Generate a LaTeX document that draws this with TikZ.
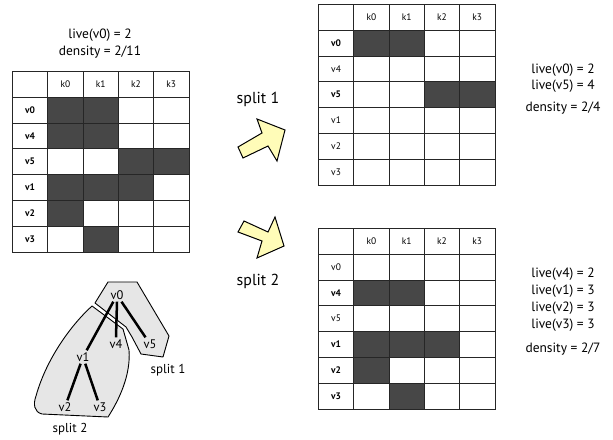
\documentclass[tikz,border=0pt]{standalone}
\usepackage{fontspec}
\setmainfont{PT Sans}
\definecolor{cellfill}{HTML}{474747}
\definecolor{regionfill}{HTML}{E6E6E6}
\definecolor{arrowfill}{HTML}{FFFCB8}
\tikzset{
  cell/.style={draw=black!85, line width=0.8bp, minimum width=35.3bp, minimum height=25.8bp,
    inner sep=0pt, anchor=north west, font=\fontsize{9.5}{11}\selectfont},
  txt/.style={font=\fontsize{13.5}{15}\selectfont, inner sep=1pt},
  big/.style={font=\fontsize{16}{18}\selectfont, inner sep=1pt},
  tn/.style={font=\fontsize{12.5}{14}\selectfont, inner sep=2pt},
  tl/.style={font=\fontsize{13}{15}\selectfont, inner sep=1pt},
  tedge/.style={line width=2.5bp, black},
  region/.style={draw=black, line width=0.9bp, fill=regionfill, line join=round},
  blockarrow/.style={draw=black, line width=1bp, fill=arrowfill, line join=miter}
}
\newcommand\drawmat[4]{%
  \node[cell] (#1-0-0) at (#2,#3) {};
  \foreach \kk [count=\j] in {k0,k1,k2,k3}
    \node[cell] (#1-0-\j) at ({#2+\j*35.3},{#3}) {\kk};
  \foreach \lab/\isb/\qa/\qb/\qc/\qd [count=\i] in {#4} {
    \ifnum\isb=1 \def\lf{\bfseries}\else\def\lf{}\fi
    \node[cell] (#1-\i-0) at ({#2},{#3+\i*25.8}) {\lf\lab};
    \foreach \s [count=\j] in {\qa,\qb,\qc,\qd} {
      \ifnum\s=1 \def\cf{cellfill}\else\def\cf{white}\fi
      \node[cell, fill=\cf] (#1-\i-\j) at ({#2+\j*35.3},{#3+\i*25.8}) {};
    }
  }
}
\begin{document}
\begin{tikzpicture}[x=1bp,y=-1bp]
\useasboundingbox (0,0) rectangle (613,440);
% left matrix
\node[txt] (lv0) at (100,35) {live(v0) = 2};
\node[txt] (lden) at (100,52) {density = 2/11};
\drawmat{L}{12}{71}{v0/1/1/1/0/0, v4/1/1/1/0/0, v5/1/0/0/1/1, v1/1/1/1/1/0, v2/1/1/0/0/0, v3/1/0/1/0/0}
% top right matrix
\drawmat{T}{318}{4}{v0/1/1/1/0/0, v4/0/0/0/0/0, v5/1/0/0/1/1, v1/0/0/0/0/0, v2/0/0/0/0/0, v3/0/0/0/0/0}
% bottom right matrix
\drawmat{B}{318}{228}{v0/0/0/0/0/0, v4/1/1/1/0/0, v5/0/0/0/0/0, v1/1/1/1/1/0, v2/1/1/0/0/0, v3/1/0/1/0/0}
% right texts
\node[txt] (t1) at (563,70) {live(v0) = 2};
\node[txt] (t2) at (563,86) {live(v5) = 4};
\node[txt] (t3) at (563,108) {density = 2/4};
\node[txt] (b1) at (563,274) {live(v4) = 2};
\node[txt] (b2) at (563,291) {live(v1) = 3};
\node[txt] (b3) at (563,308) {live(v2) = 3};
\node[txt] (b4) at (563,325) {live(v3) = 3};
\node[txt] (b5) at (563,349) {density = 2/7};
% split labels and arrows
\node[big] (s1) at (258,99) {split 1};
\node[big] (s2) at (258,281) {split 2};
\draw[blockarrow] (238,147) -- (262,133) -- (257,119) -- (285,130) -- (277,161) -- (268,146) -- (243,158) -- cycle;
\draw[blockarrow] (244,221) -- (268,232) -- (275,217) -- (284,246) -- (257,258) -- (262,241) -- (238,232) -- cycle;
% tree regions
\draw[region] (92,306) -- (123,329) -- (129,350) .. controls (131,375) and (119,400) .. (108,417)
  -- (42,414) .. controls (34,412) and (33,404) .. (36,396) .. controls (46,360) and (70,326) .. (92,306) -- cycle;
\draw[region] (108,282) -- (137,282) -- (169,336) -- (163,357) -- (141,354) -- (132,337) -- (126,327) -- (95,303) -- cycle;
% tree
\node[tn] (v0) at (117,295) {v0};
\node[tn] (v4) at (116,344) {v4};
\node[tn] (v5) at (150,344) {v5};
\node[tn] (v1) at (83,357) {v1};
\node[tn] (v2) at (65,407) {v2};
\node[tn] (v3) at (100,407) {v3};
\draw[tedge] (v0) -- (v1);
\draw[tedge] (v0.south) -- (v4.north);
\draw[tedge] (v0) -- (v5);
\draw[tedge] (v1) -- (v2);
\draw[tedge] (v1) -- (v3);
\node[tl] (r1) at (168,370) {split 1};
\node[tl] (r2) at (70,429) {split 2};
\end{tikzpicture}
\end{document}
